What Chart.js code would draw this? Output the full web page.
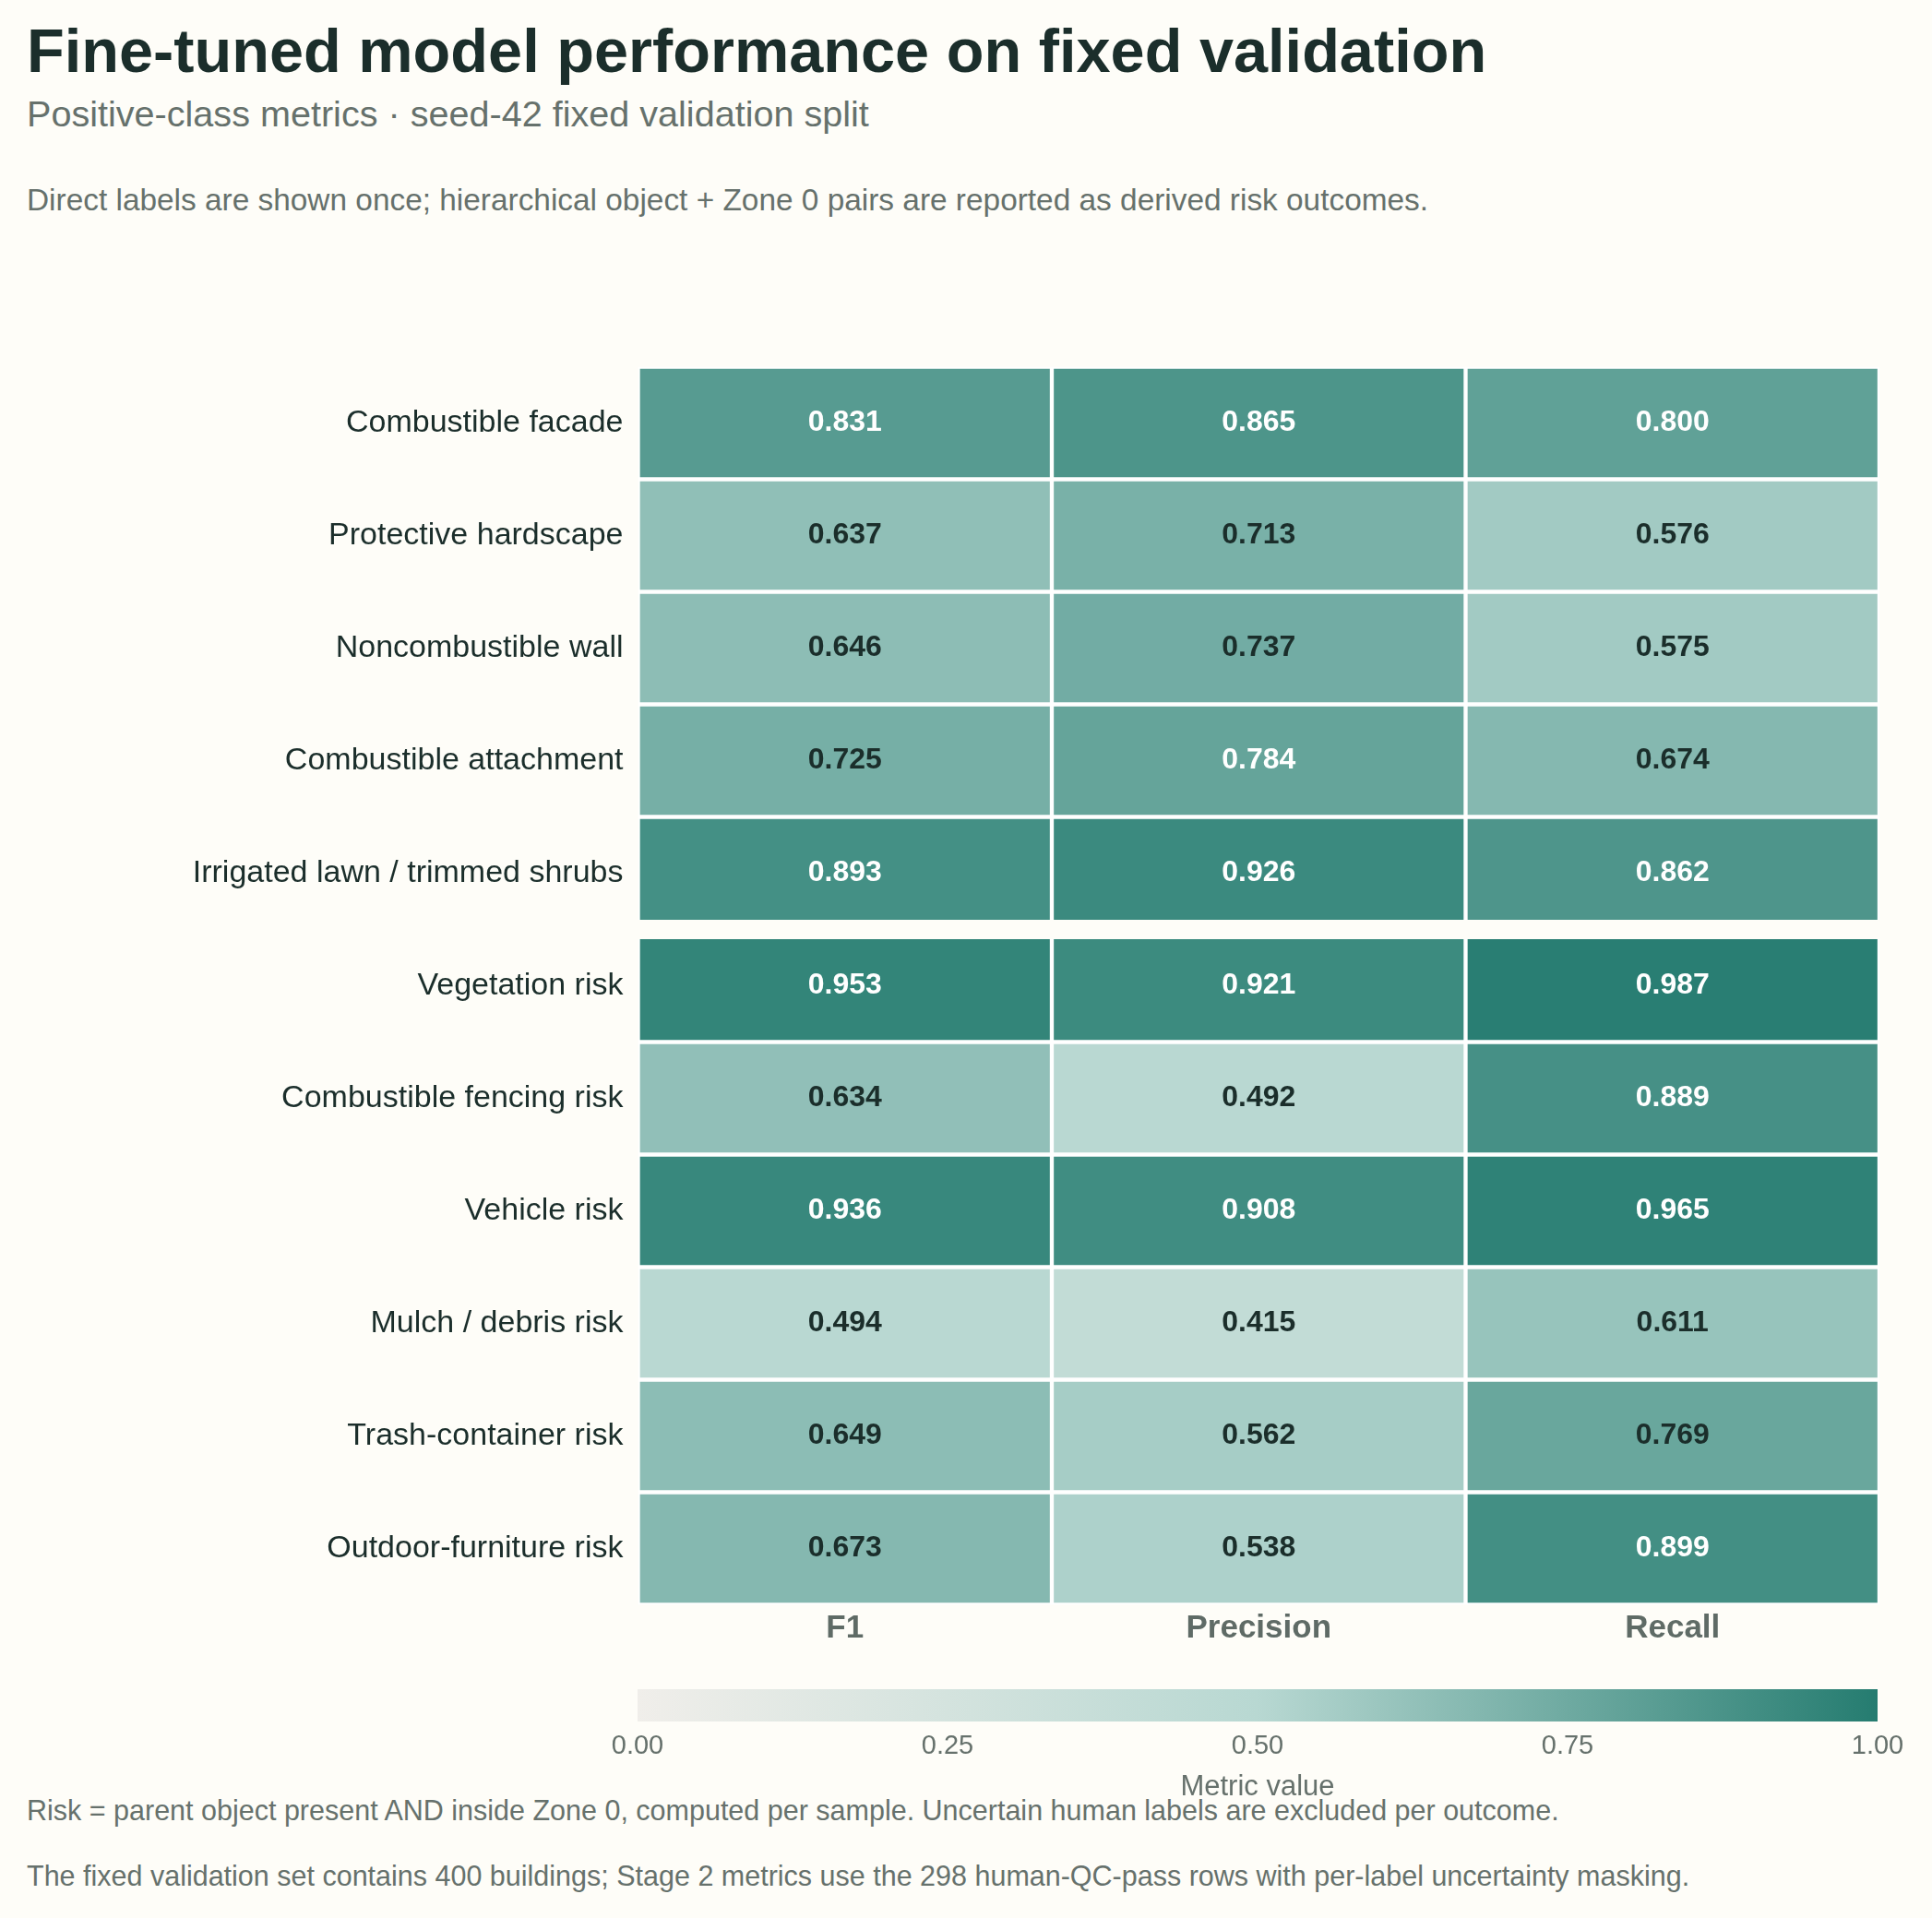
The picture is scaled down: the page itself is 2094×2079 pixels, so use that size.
<!DOCTYPE html>
<html>
<head>
<meta charset="utf-8">
<script src="https://cdn.jsdelivr.net/npm/chart.js@4.4.1/dist/chart.umd.min.js"></script>
<style>
  html, body { margin: 0; padding: 0; background: #fefdf8; }
  body { width: 2094px; height: 2079px; position: relative; overflow: hidden;
         font-family: "Liberation Sans", Arial, Helvetica, sans-serif; }
  .txt { position: absolute; left: 29px; white-space: nowrap; line-height: 1; }
  #main { position: absolute; left: 0; top: 0; }
  #cbar { position: absolute; left: 0; top: 1800px; }
</style>
</head>
<body>
<div class="txt" style="top:22px;font-size:66.7px;font-weight:bold;color:#1b2e2b;">Fine-tuned model performance on fixed validation</div>
<div class="txt" style="top:104px;font-size:39.6px;color:#66716c;">Positive-class metrics · seed-42 fixed validation split</div>
<div class="txt" style="top:200px;font-size:33.4px;color:#66716c;">Direct labels are shown once; hierarchical object + Zone 0 pairs are reported as derived risk outcomes.</div>
<div class="txt" style="top:1947px;font-size:30.5px;color:#66716c;">Risk = parent object present AND inside Zone 0, computed per sample. Uncertain human labels are excluded per outcome.</div>
<div class="txt" style="top:2018px;font-size:30.5px;color:#66716c;">The fixed validation set contains 400 buildings; Stage 2 metrics use the 298 human-QC-pass rows with per-label uncertainty masking.</div>

<canvas id="main" width="2094" height="1800" style="width:2094px;height:1800px;"></canvas>
<canvas id="cbar" width="2094" height="158" style="width:2094px;height:158px;"></canvas>

<script>
// ---------------- data ----------------
const rowLabels = [
  "Combustible facade",
  "Protective hardscape",
  "Noncombustible wall",
  "Combustible attachment",
  "Irrigated lawn / trimmed shrubs",
  "Vegetation risk",
  "Combustible fencing risk",
  "Vehicle risk",
  "Mulch / debris risk",
  "Trash-container risk",
  "Outdoor-furniture risk"
];
const metricLabels = ["F1", "Precision", "Recall"];
const f1Values        = [0.831, 0.637, 0.646, 0.725, 0.893, 0.953, 0.634, 0.936, 0.494, 0.649, 0.673];
const precisionValues = [0.865, 0.713, 0.737, 0.784, 0.926, 0.921, 0.492, 0.908, 0.415, 0.562, 0.538];
const recallValues    = [0.800, 0.576, 0.575, 0.674, 0.862, 0.987, 0.889, 0.965, 0.611, 0.769, 0.899];
const directLabelCount = 5;               // rows before the derived-risk block
const colorbarTicks = [0, 0.25, 0.5, 0.75, 1];
const colorbarRange = [0, 1];

// ---------------- style ----------------
const FONT = '"Liberation Sans", Arial, Helvetica, sans-serif';
const BG = '#fefdf8';
const DARK = '#1b2e2b';
const GREY = '#66716c';
const cmapStops = [
  [0.0, [240, 238, 234]],
  [0.5, [184, 216, 210]],
  [1.0, [37, 124, 112]]
];
function cmap(v) {
  v = Math.max(0, Math.min(1, v));
  for (let k = 1; k < cmapStops.length; k++) {
    const [p1, c1] = cmapStops[k];
    const [p0, c0] = cmapStops[k - 1];
    if (v <= p1) {
      const t = (v - p0) / (p1 - p0);
      const c = c0.map((a, i) => Math.round(a + (c1[i] - a) * t));
      return `rgb(${c[0]},${c[1]},${c[2]})`;
    }
  }
  const c = cmapStops[cmapStops.length - 1][1];
  return `rgb(${c[0]},${c[1]},${c[2]})`;
}

const metricSeries = [f1Values, precisionValues, recallValues];

// ---------------- plugin: group gap + cell values ----------------
const cellPlugin = {
  id: 'cellPlugin',
  afterDatasetsDraw(chart) {
    const { ctx, chartArea, scales: { y } } = chart;
    ctx.save();
    // separator between direct labels and derived risk outcomes
    const yb = (y.getPixelForValue(directLabelCount - 1) + y.getPixelForValue(directLabelCount)) / 2;
    ctx.fillStyle = BG;
    ctx.fillRect(chartArea.left - 1, yb - 10.5, chartArea.right - chartArea.left + 2, 21);
    // values
    ctx.font = `bold 32px ${FONT}`;
    ctx.textAlign = 'center';
    ctx.textBaseline = 'middle';
    chart.data.datasets.forEach((ds, di) => {
      chart.getDatasetMeta(di).data.forEach((el, i) => {
        const v = ds.data[i].v;
        const c = el.getCenterPoint();
        ctx.fillStyle = v >= 0.78 ? '#ffffff' : DARK;
        ctx.fillText(v.toFixed(3), c.x, c.y);
      });
    });
    ctx.restore();
  }
};

new Chart(document.getElementById('main'), {
  type: 'bar',
  data: {
    labels: rowLabels,
    datasets: metricSeries.map((vals, j) => ({
      label: metricLabels[j],
      data: vals.map((v, i) => ({ x: [j, j + 1], y: rowLabels[i], v: v })),
      backgroundColor: (c) => (c.raw ? cmap(c.raw.v) : 'transparent'),
      borderColor: '#ffffff',
      borderWidth: 2.5,
      borderSkipped: false,
      barPercentage: 1,
      categoryPercentage: 1,
      grouped: false
    }))
  },
  options: {
    indexAxis: 'y',
    responsive: false,
    devicePixelRatio: 1,
    animation: false,
    layout: { padding: { left: 0, top: 397.5, right: 57, bottom: 0 } },
    plugins: { legend: { display: false }, tooltip: { enabled: false } },
    scales: {
      y: {
        type: 'category',
        labels: rowLabels,
        grid: { display: false, drawTicks: false },
        border: { display: false },
        ticks: { font: { size: 34, family: FONT }, color: DARK, padding: 16, autoSkip: false },
        afterFit: (s) => { s.width = 691.5; }
      },
      x: {
        type: 'linear',
        min: 0,
        max: metricLabels.length,
        grid: { display: false, drawTicks: false },
        border: { display: false },
        afterBuildTicks: (s) => { s.ticks = metricLabels.map((_, j) => ({ value: j + 0.5 })); },
        ticks: {
          callback: (v, i) => metricLabels[i],
          font: { size: 35, weight: 'bold', family: FONT },
          color: '#5f6b66',
          padding: 5,
          autoSkip: false,
          maxRotation: 0
        },
        afterFit: (s) => { s.height = 60.5; }
      }
    }
  },
  plugins: [cellPlugin]
});

// ---------------- colorbar ----------------
new Chart(document.getElementById('cbar'), {
  type: 'bar',
  data: {
    labels: ['Metric value'],
    datasets: [{
      data: [colorbarRange],
      backgroundColor: (c) => {
        const a = c.chart.chartArea;
        if (!a) return cmap(0.5);
        const g = c.chart.ctx.createLinearGradient(a.left, 0, a.right, 0);
        cmapStops.forEach(([p, rgb]) => g.addColorStop(p, `rgb(${rgb[0]},${rgb[1]},${rgb[2]})`));
        return g;
      },
      borderWidth: 0,
      barPercentage: 1,
      categoryPercentage: 1
    }]
  },
  options: {
    indexAxis: 'y',
    responsive: false,
    devicePixelRatio: 1,
    animation: false,
    layout: { padding: { left: 691, right: 59, top: 31, bottom: 0 } },
    plugins: { legend: { display: false }, tooltip: { enabled: false } },
    scales: {
      y: { display: false },
      x: {
        type: 'linear',
        min: colorbarRange[0],
        max: colorbarRange[1],
        grid: { display: false, drawTicks: false },
        border: { display: false },
        afterBuildTicks: (s) => { s.ticks = colorbarTicks.map(v => ({ value: v })); },
        ticks: {
          callback: (v) => Number(v).toFixed(2),
          font: { size: 29, family: FONT },
          color: GREY,
          padding: 10,
          autoSkip: false,
          maxRotation: 0
        },
        title: {
          display: true,
          text: 'Metric value',
          font: { size: 31, family: FONT },
          color: GREY,
          padding: { top: 0, bottom: 2 }
        },
        afterFit: (s) => { s.height = 92; }
      }
    }
  }
});
</script>
</body>
</html>
